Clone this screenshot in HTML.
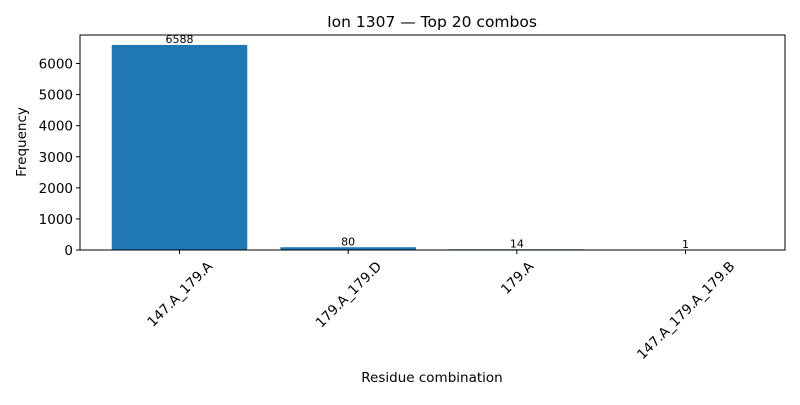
<!DOCTYPE html>
<html><head><meta charset="utf-8"><style>
body{margin:0;background:#fff}
svg{font-family:"DejaVu Sans","Liberation Sans",sans-serif}
</style></head><body>
<svg id="chart" width="800" height="400" viewBox="0 0 800 400">
<rect width="800" height="400" fill="#fff"/>
<text x="432" y="27" font-size="15.5" text-anchor="middle">Ion 1307 — Top 20 combos</text>
<text x="432" y="382" font-size="13.5" text-anchor="middle">Residue combination</text>
<text transform="translate(26,142) rotate(-90)" font-size="13.5" text-anchor="middle">Frequency</text>
<g id="bars"></g><g id="axes"></g>
</svg>
<script>
const categories = ["147.A_179.A","179.A_179.D","179.A","147.A_179.A_179.B"];
const values = [6588, 80, 14, 1];
const yTicks = [0,1000,2000,3000,4000,5000,6000];
const L=80,R=785,T=35,B=250;
const n=categories.length;
const xMin=-0.4-0.05*(n-1+0.8), xMax=n-1+0.4+0.05*(n-1+0.8);
const yMax=Math.max(...values)*1.05;
const xs=v=>L+(v-xMin)/(xMax-xMin)*(R-L);
const ys=v=>B-v/yMax*(B-T);
const NS="http://www.w3.org/2000/svg";
const bars=document.getElementById('bars'), axes=document.getElementById('axes');
function mk(tag,attrs,parent,txt){const e=document.createElementNS(NS,tag);for(const k in attrs)e.setAttribute(k,attrs[k]);if(txt!==undefined)e.textContent=txt;parent.appendChild(e);return e;}
values.forEach((v,i)=>{
  const x0=xs(i-0.4),x1=xs(i+0.4);
  const r=mk('rect',{x:x0,y:ys(v),width:x1-x0,height:B-ys(v),fill:'#1f77b4',stroke:'#1f77b4','stroke-width':0.6},bars);
  
  
  const t=mk('text',{x:xs(i),y:ys(v)-2,'font-size':11,'text-anchor':'middle'},bars,String(v));
  
  
});
const frame=mk('rect',{x:L,y:T,width:R-L,height:B-T,fill:'none',stroke:'#000','stroke-width':1},axes);


yTicks.forEach(v=>{
  const y=ys(v);
  mk('line',{x1:L-4,x2:L,y1:y,y2:y,stroke:'#000'},axes);
  const t=mk('text',{x:L-7,y:y+5,'font-size':13.5,'text-anchor':'end'},axes,String(v));
  
  
});
categories.forEach((c,i)=>{
  const x=xs(i);
  mk('line',{x1:x,x2:x,y1:B,y2:B+4,stroke:'#000'},axes);
  const t=mk('text',{'font-size':13.5,'text-anchor':'middle'},axes,c);
  
  
  const w=t.getComputedTextLength(),h=13;
  const cy=B+9+(w+h)*0.7071/2;
  t.setAttribute('transform','translate('+x+','+cy+') rotate(-45)');
  t.setAttribute('dy','5');
});
</script>
</body></html>
